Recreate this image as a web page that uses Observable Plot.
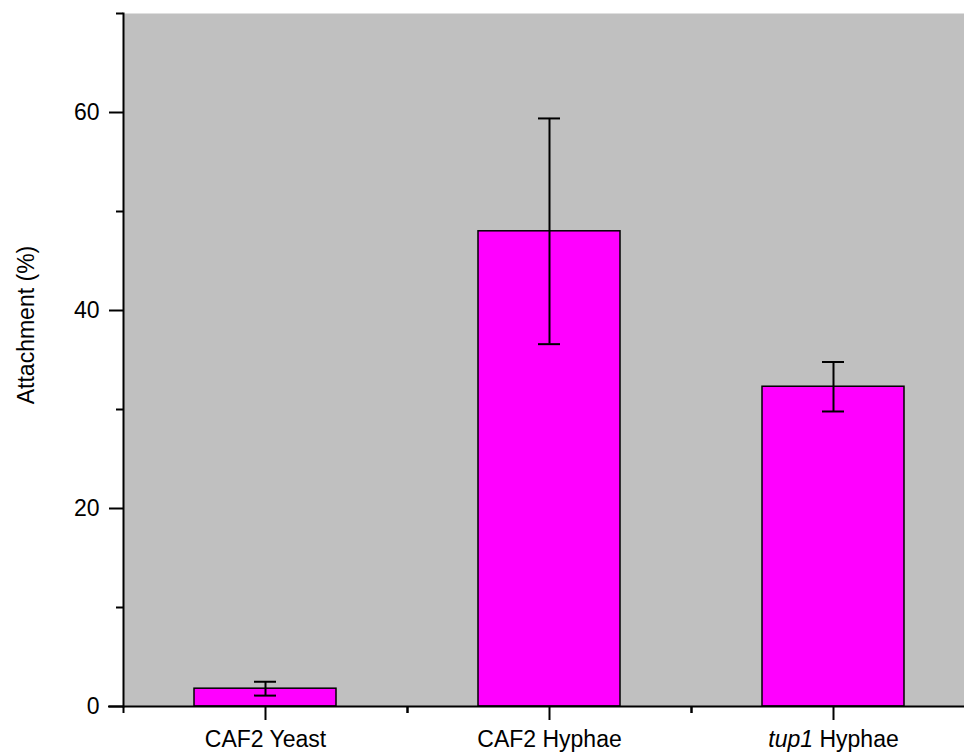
<!DOCTYPE html>
<html><head><meta charset="utf-8">
<script src="https://cdn.jsdelivr.net/npm/d3@7"></script>
<script src="https://cdn.jsdelivr.net/npm/@observablehq/plot@0.6"></script>
<style>body{margin:0;background:#fff} svg{font-family:"Liberation Sans",Arial,sans-serif}</style>
</head><body><div id="chart"></div>
<script>
const categories = ["CAF2 Yeast", "CAF2 Hyphae", "tup1 Hyphae"];
const means = [1.8, 48.0, 32.3];
const errors = [0.7, 11.4, 2.5];
const yMajorTicks = [0, 20, 40, 60];
const yMinorTicks = [10, 30, 50, 70];
const yDomain = [0, 70];
const yLabel = "Attachment (%)";
const italicPart = "tup1";

const data = categories.map((c, i) => ({cat: c, mean: means[i], lo: means[i] - errors[i], hi: means[i] + errors[i]}));

const W = 964, H = 753, ML = 123, MR = -11, MT = 13, MB = 47;
const FS = 23;
const bandHalf = (W - ML - MR) / categories.length / 2;
const barInset = bandHalf / 2;
const capInset = bandHalf - 11;

const chart = Plot.plot({
  width: W, height: H, marginLeft: ML, marginRight: MR, marginTop: MT, marginBottom: MB,
  style: {fontFamily: '"Liberation Sans", Arial, sans-serif', fontSize: FS + "px", background: "white", color: "black"},
  x: {type: "band", domain: categories, padding: 0, axis: null},
  y: {domain: yDomain, axis: null},
  marks: [
    Plot.frame({fill: "#c0c0c0", stroke: null}),
    Plot.barY(data, {x: "cat", y: "mean", fill: "#ff00ff", stroke: "black", strokeWidth: 1.5, insetLeft: barInset, insetRight: barInset}),
    Plot.ruleX(data, {x: "cat", y1: "lo", y2: "hi", stroke: "black", strokeWidth: 2}),
    Plot.tickY(data, {x: "cat", y: "hi", stroke: "black", strokeWidth: 2, insetLeft: capInset, insetRight: capInset}),
    Plot.tickY(data, {x: "cat", y: "lo", stroke: "black", strokeWidth: 2, insetLeft: capInset, insetRight: capInset}),
    Plot.ruleY([0], {stroke: "black", strokeWidth: 2, insetLeft: -15}),
    Plot.frame({anchor: "left", stroke: "black", strokeWidth: 2}),
    Plot.axisY({ticks: yMajorTicks, tickSize: 14, tickPadding: 10, strokeWidth: 2, fontSize: FS, label: null}),
    Plot.axisY({ticks: yMinorTicks, tickSize: 7, text: null, label: null, strokeWidth: 2}),
    Plot.axisX({tickSize: 14, tickPadding: 10, strokeWidth: 2, fontSize: FS, label: null}),
    Plot.axisX({tickSize: 7, dx: -bandHalf, text: null, label: null, strokeWidth: 2}),
    Plot.axisX({tickSize: 7, dx: bandHalf, text: null, label: null, strokeWidth: 2}),
    Plot.text([yLabel], {text: d => d, frameAnchor: "left", textAnchor: "middle", lineAnchor: "middle", rotate: -90, dx: -97, dy: -35, fontSize: FS, fill: "black"})
  ]
});

chart.querySelectorAll("text").forEach(t => {
  if (t.textContent.startsWith(italicPart + " ")) {
    const rest = t.textContent.slice(italicPart.length);
    t.textContent = "";
    const ts = document.createElementNS("http://www.w3.org/2000/svg", "tspan");
    ts.setAttribute("font-style", "italic");
    ts.textContent = italicPart;
    t.appendChild(ts);
    t.appendChild(document.createTextNode(rest));
  }
});
document.getElementById("chart").appendChild(chart);
</script>
</body></html>
